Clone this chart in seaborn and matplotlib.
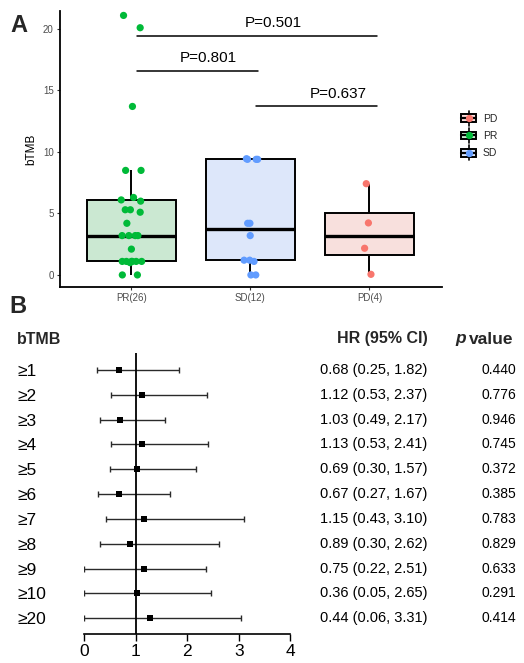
import numpy as np
import pandas as pd
import matplotlib
matplotlib.use("Agg")
import matplotlib.pyplot as plt
import matplotlib.transforms as mtransforms
from matplotlib.legend_handler import HandlerBase
from matplotlib.patches import Rectangle, Patch
from matplotlib.lines import Line2D
import seaborn as sns

# ---------------- data : panel A ----------------
group_order = ["PR", "SD", "PD"]
group_ticklabels = ["PR(26)", "SD(12)", "PD(4)"]
pr_values = [0.0, 0.0, 1.0, 1.1, 1.1, 1.1, 1.1, 1.1, 1.1, 2.1, 3.2, 3.2, 3.2,
             3.2, 4.2, 5.1, 5.3, 5.3, 6.0, 6.1, 6.3, 8.5, 8.5, 13.7, 20.1, 21.1]
sd_values = [0.0, 0.0, 1.1, 1.2, 1.2, 3.2, 4.2, 4.2, 9.4, 9.4, 9.4, 9.45]
pd_values = [0.05, 2.17, 4.23, 7.42]
legend_order = ["PD", "PR", "SD"]
comparisons = [("PR", "SD", "P=0.801"), ("PR", "PD", "P=0.501"), ("SD", "PD", "P=0.637")]

# ---------------- data : panel B ----------------
row_labels = ["≥1", "≥2", "≥3", "≥4", "≥5", "≥6", "≥7", "≥8", "≥9", "≥10", "≥20"]
hr_point = [0.68, 1.12, 0.69, 1.13, 1.03, 0.67, 1.15, 0.89, 1.16, 1.02, 1.27]
hr_low = [0.25, 0.52, 0.30, 0.52, 0.49, 0.27, 0.43, 0.30, 0.00, 0.00, 0.00]
hr_high = [1.83, 2.38, 1.57, 2.41, 2.17, 1.67, 3.10, 2.61, 2.37, 2.46, 3.05]
hr_text = ["0.68 (0.25, 1.82)", "1.12 (0.53, 2.37)", "1.03 (0.49, 2.17)",
           "1.13 (0.53, 2.41)", "0.69 (0.30, 1.57)", "0.67 (0.27, 1.67)",
           "1.15 (0.43, 3.10)", "0.89 (0.30, 2.62)", "0.75 (0.22, 2.51)",
           "0.36 (0.05, 2.65)", "0.44 (0.06, 3.31)"]
p_text = ["0.440", "0.776", "0.946", "0.745", "0.372", "0.385",
          "0.783", "0.829", "0.633", "0.291", "0.414"]
hr_ticks = [0, 1, 2, 3, 4]

# ---------------- styling ----------------
sns.set_style("white")
plt.rcParams["font.family"] = ["Liberation Sans", "DejaVu Sans"]

dot_colors = {"PR": "#00BA38", "SD": "#619CFF", "PD": "#F8766D"}
fill_colors = {"PR": "#C6EDD0", "SD": "#D8E6FF", "PD": "#FCDCD9"}

W, H = 524, 663
fig = plt.figure(figsize=(W / 100, H / 100), dpi=100)

# ================= Panel A =================
df = pd.DataFrame({
    "group": ["PR"] * len(pr_values) + ["SD"] * len(sd_values) + ["PD"] * len(pd_values),
    "bTMB": pr_values + sd_values + pd_values,
})

ax1 = fig.add_axes([60 / W, 1 - 287 / H, 382 / W, 276 / H])
sns.boxplot(data=df, x="group", y="bTMB", order=group_order, hue="group",
            hue_order=group_order, palette=fill_colors, legend=False,
            width=0.75, showfliers=False, showcaps=False, whis=1.5,
            linecolor="black", linewidth=1.4,
            medianprops=dict(linewidth=2.4, color="black"), ax=ax1)
np.random.seed(7)
sns.stripplot(data=df, x="group", y="bTMB", order=group_order, hue="group",
              hue_order=group_order, palette=dot_colors, legend=False,
              jitter=0.09, size=5.2, linewidth=0, ax=ax1, zorder=5)

ax1.set_xlim(-0.6, 2.61)
ax1.set_ylim(-0.98, 21.46)
ax1.set_yticks([0, 5, 10, 15, 20])
ax1.set_xticks(range(len(group_order)))
ax1.set_xticklabels(group_ticklabels)
ax1.set_xlabel("")
ax1.set_ylabel("bTMB", fontsize=8.5, color="black", labelpad=4)
ax1.tick_params(axis="both", labelsize=7, labelcolor="#4D4D4D", length=2.5,
                width=0.8, color="#333333", pad=2, left=True, bottom=True)
for s in ["top", "right"]:
    ax1.spines[s].set_visible(False)
for s in ["left", "bottom"]:
    ax1.spines[s].set_linewidth(1.3)
    ax1.spines[s].set_color("black")

# significance brackets
bracket_heights = {"P=0.801": 16.6, "P=0.501": 19.45, "P=0.637": 13.7}
text_shift = {"P=0.801": 0.65, "P=0.501": 1.19, "P=0.637": 1.74}
for g1, g2, lab in comparisons:
    i1, i2 = group_order.index(g1), group_order.index(g2)
    yb = bracket_heights[lab]
    ax1.plot([i1 + 0.05, i2 + 0.06], [yb, yb], color="black", lw=1.1)
    ax1.text(text_shift[lab], yb + 0.45, lab, ha="center", va="bottom",
             fontsize=11, color="black")


class BoxKeyHandler(HandlerBase):
    def __init__(self, fill, dot):
        super().__init__()
        self.fill, self.dot = fill, dot

    def create_artists(self, legend, orig_handle, xdescent, ydescent, width,
                       height, fontsize, trans):
        cx = -xdescent + width / 2
        cy = -ydescent + height / 2
        bw, bh = width * 0.95, height * 0.66
        rect = Rectangle((cx - bw / 2, cy - bh / 2), bw, bh, facecolor=self.fill,
                         edgecolor="black", lw=1.4, transform=trans)
        med = Line2D([cx - bw / 2, cx + bw / 2], [cy, cy], color="black", lw=1.6,
                     transform=trans)
        w1 = Line2D([cx, cx], [cy + bh / 2, cy + height * 0.68], color="black",
                    lw=1.2, transform=trans)
        w2 = Line2D([cx, cx], [cy - bh / 2, cy - height * 0.68], color="black",
                    lw=1.2, transform=trans)
        dot = Line2D([cx], [cy], marker="o", ms=4.2, color=self.dot, lw=0,
                     transform=trans)
        return [rect, med, w1, w2, dot]


handles = [Patch(facecolor=fill_colors[g]) for g in legend_order]
hmap = {h: BoxKeyHandler(fill_colors[g], dot_colors[g]) for h, g in zip(handles, legend_order)}
leg = fig.legend(handles, legend_order, handler_map=hmap, loc="center left",
                 bbox_to_anchor=(461 / W, 1 - 135.5 / H), frameon=False,
                 fontsize=7.5, handlelength=1.45, handleheight=1.25,
                 handletextpad=0.65, labelspacing=0.62, borderpad=0,
                 borderaxespad=0)

fig.text(10 / W, 1 - 32 / H, "A", fontsize=17, fontweight="bold", ha="left",
         va="baseline")

# ================= Panel B =================
n = len(row_labels)
ypos = np.arange(1, n + 1)
ax2 = fig.add_axes([84.3 / W, 1 - 634.3 / H, 206 / W, 281 / H])
ax2.errorbar(hr_point, ypos,
             xerr=[np.array(hr_point) - np.array(hr_low),
                   np.array(hr_high) - np.array(hr_point)],
             fmt="none", ecolor="#2A2A2A", elinewidth=1.0, capsize=2.2,
             capthick=1.0, zorder=2)
sns.scatterplot(x=hr_point, y=ypos, marker="s", s=18, color="black",
                edgecolor="black", linewidth=0, ax=ax2, zorder=4)
ax2.axvline(1, color="black", lw=1.3, zorder=3)
ax2.set_xlim(0, 4)
ax2.set_ylim(n + 0.65, 0.33)
ax2.set_xticks(hr_ticks)
ax2.set_xticklabels([str(t) for t in hr_ticks])
ax2.set_yticks(ypos)
ax2.set_yticklabels(row_labels)
for lab in ax2.get_yticklabels():
    lab.set_horizontalalignment("left")
ax2.tick_params(axis="y", length=0, pad=48.5, labelsize=12.5, labelcolor="black")
ax2.tick_params(axis="x", length=5, width=1.0, pad=2, labelsize=12.5,
                labelcolor="black", color="black", bottom=True)
for s in ["top", "right", "left"]:
    ax2.spines[s].set_visible(False)
ax2.spines["bottom"].set_linewidth(1.2)
ax2.spines["bottom"].set_color("black")
ax2.set_xlabel("")
ax2.set_ylabel("")

blend = mtransforms.blended_transform_factory(fig.transFigure, ax2.transData)
for y, ht, pt in zip(ypos, hr_text, p_text):
    ax2.text(319.5 / W, y, ht, transform=blend, ha="left", va="center",
             fontsize=10.5, color="black", clip_on=False)
    ax2.text(482 / W, y, pt, transform=blend, ha="left", va="center",
             fontsize=10, color="black", clip_on=False)

fig.text(9 / W, 1 - 313 / H, "B", fontsize=17, fontweight="bold", ha="left",
         va="baseline")
fig.text(17 / W, 1 - 339 / H, "bTMB", fontsize=11.5, fontweight="bold",
         ha="left", va="center")
fig.text(382.5 / W, 1 - 339 / H, "HR (95% CI)", fontsize=11.5, fontweight="bold",
         ha="center", va="center")
fig.text(455 / W, 1 - 339 / H, "p", fontsize=12.5, fontweight="bold",
         fontstyle="italic", ha="left", va="center")
fig.text(469 / W, 1 - 339 / H, "value", fontsize=12.5, fontweight="bold",
         ha="left", va="center")

fig.savefig("out.png", dpi=100)
